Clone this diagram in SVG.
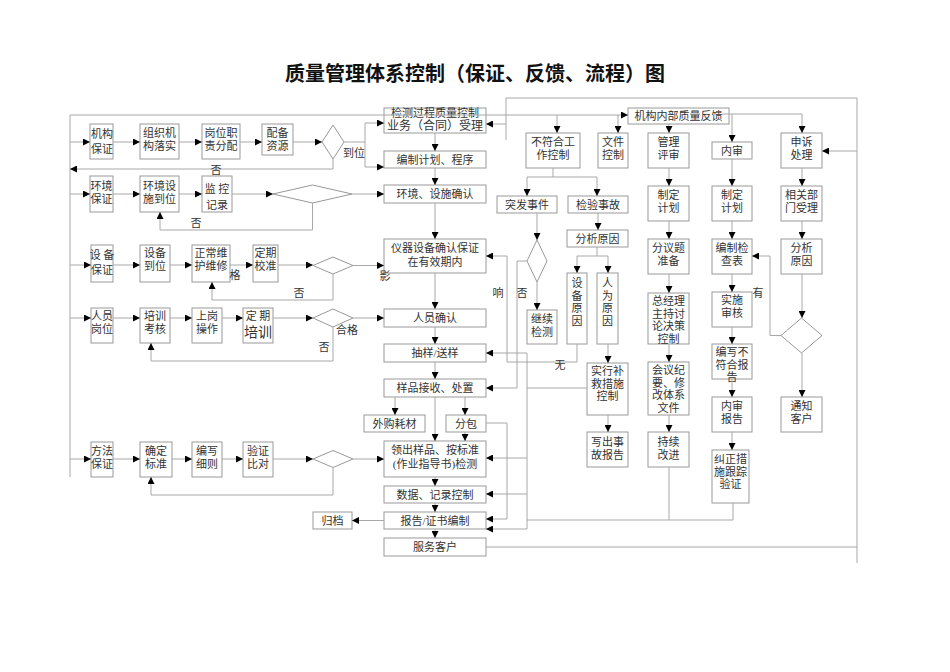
<svg xmlns="http://www.w3.org/2000/svg" width="950" height="672" viewBox="0 0 950 672">
<defs>
<style>
.b{fill:#fff;stroke:#999;stroke-width:1}
.t{font-family:"Liberation Serif","Noto Sans CJK SC",serif;font-size:11px;fill:#333;text-anchor:middle}
.l{fill:none;stroke:#a8a8a8;stroke-width:1}
.la{fill:none;stroke:#a8a8a8;stroke-width:1;marker-end:url(#a)}
.lb{font-family:"Liberation Serif","Noto Sans CJK SC",serif;font-size:11px;fill:#333;text-anchor:middle}
</style>
<marker id="a" markerWidth="7" markerHeight="7" refX="7" refY="3.5" orient="auto" markerUnits="userSpaceOnUse"><path d="M0,0 L7,3.5 L0,7 z" fill="#000"/></marker>
</defs>
<rect width="950" height="672" fill="#fff"/>
<text x="475" y="81" font-family="Liberation Serif, Noto Sans CJK SC, sans-serif" font-size="20" font-weight="bold" text-anchor="middle" fill="#111">质量管理体系控制（保证、反馈、流程）图</text>

<g id="nodes">
<g id="n_jg"><rect class="b" x="90" y="124" width="23" height="35"/><text class="t" x="102" y="138" font-size="13">机构<tspan x="102" dy="15">保证</tspan></text></g>
<g id="n_zz"><rect class="b" x="140" y="124" width="39" height="35"/><text class="t" x="159.5" y="137">组织机<tspan x="159.5" dy="13">构落实</tspan></text></g>
<g id="n_gw"><rect class="b" x="202" y="124" width="38" height="35"/><text class="t" x="221" y="137">岗位职<tspan x="221" dy="13">责分配</tspan></text></g>
<g id="n_pb"><rect class="b" x="262" y="124" width="31" height="31"/><text class="t" x="277.5" y="137">配备<tspan x="277.5" dy="13">资源</tspan></text></g>
<g id="n_d1"><polygon class="b" points="333,125 344,142 333,159 322,142"/></g>

<g id="n_hj"><rect class="b" x="90" y="176" width="23" height="36"/><text class="t" x="101.5" y="190">环境<tspan x="101.5" dy="13">保证</tspan></text></g>
<g id="n_hs"><rect class="b" x="140" y="176" width="39" height="36"/><text class="t" x="159.5" y="190">环境设<tspan x="159.5" dy="13">施到位</tspan></text></g>
<g id="n_jk"><rect class="b" x="202" y="176" width="30" height="36"/><text class="t" x="217" y="193" font-size="14">监 控<tspan x="217" dy="15.5">记录</tspan></text></g>
<g id="n_d2"><polygon class="b" points="273,194 312.5,185 352,194 312.5,203"/></g>

<g id="n_sb"><rect class="b" x="91" y="245" width="22" height="37"/><text class="t" x="102" y="259" font-size="13">设 备<tspan x="102" dy="15">保证</tspan></text></g>
<g id="n_sd"><rect class="b" x="140" y="245" width="30" height="37"/><text class="t" x="155" y="257">设备<tspan x="155" dy="13">到位</tspan></text></g>
<g id="n_zc"><rect class="b" x="192" y="245" width="38" height="37"/><text class="t" x="211" y="257">正常维<tspan x="211" dy="13">护维修</tspan></text></g>
<g id="n_dq"><rect class="b" x="253" y="245" width="25" height="37"/><text class="t" x="265.5" y="257">定期<tspan x="265.5" dy="13">校准</tspan></text></g>
<g id="n_d3"><polygon class="b" points="313,265.5 333,257 353,265.5 333,274"/></g>

<g id="n_ry"><rect class="b" x="91" y="308" width="22" height="35"/><text class="t" x="102" y="320">人员<tspan x="102" dy="13">岗位</tspan></text></g>
<g id="n_px"><rect class="b" x="140" y="308" width="30" height="35"/><text class="t" x="155" y="320">培训<tspan x="155" dy="13">考核</tspan></text></g>
<g id="n_sg"><rect class="b" x="192" y="308" width="30" height="35"/><text class="t" x="207" y="320">上岗<tspan x="207" dy="13">操作</tspan></text></g>
<g id="n_dp"><rect class="b" x="243" y="308" width="30" height="35"/><text class="t" x="258" y="320">定 期<tspan x="258" dy="17" font-size="14">培训</tspan></text></g>
<g id="n_d4"><polygon class="b" points="313,318 333,309 353,318 333,327"/></g>

<g id="n_ff"><rect class="b" x="91" y="442" width="22" height="35"/><text class="t" x="102" y="455">方法<tspan x="102" dy="13">保证</tspan></text></g>
<g id="n_qd"><rect class="b" x="140" y="442" width="32" height="35"/><text class="t" x="156" y="455">确定<tspan x="156" dy="13">标准</tspan></text></g>
<g id="n_bx"><rect class="b" x="192" y="442" width="30" height="35"/><text class="t" x="207" y="455">编写<tspan x="207" dy="13">细则</tspan></text></g>
<g id="n_yz"><rect class="b" x="243" y="442" width="30" height="35"/><text class="t" x="258" y="455">验证<tspan x="258" dy="13">比对</tspan></text></g>
<g id="n_d5"><polygon class="b" points="313,459 333,450.5 353,459 333,467.5"/></g>

<g id="m1"><rect class="b" x="384" y="108" width="102" height="25"/><text class="t" x="435" y="117" font-size="10.5">检测过程质量控制<tspan x="435" dy="13" font-size="12">业务（合同）受理</tspan></text></g>
<g id="m2"><rect class="b" x="384" y="151" width="102" height="17"/><text class="t" x="435" y="164">编制计划、程序</text></g>
<g id="m3"><rect class="b" x="384" y="185" width="102" height="18"/><text class="t" x="435" y="198">环境、设施确认</text></g>
<g id="m4"><rect class="b" x="384" y="239" width="102" height="34"/><text class="t" x="435" y="252">仪器设备确认保证<tspan x="435" dy="14">在有效期内</tspan></text></g>
<g id="m5"><rect class="b" x="384" y="309" width="102" height="18"/><text class="t" x="435" y="322">人员确认</text></g>
<g id="m6"><rect class="b" x="384" y="344" width="102" height="18"/><text class="t" x="435" y="357">抽样/送样</text></g>
<g id="m7"><rect class="b" x="384" y="379" width="102" height="18"/><text class="t" x="435" y="392">样品接收、处置</text></g>
<g id="m8a"><rect class="b" x="364" y="415" width="61" height="17"/><text class="t" x="394.5" y="428">外购耗材</text></g>
<g id="m8b"><rect class="b" x="446" y="415" width="40" height="17"/><text class="t" x="466" y="428">分包</text></g>
<g id="m9"><rect class="b" x="384" y="441" width="102" height="36"/><text class="t" x="435" y="454">领出样品、按标准<tspan x="435" dy="14">(作业指导书)检测</tspan></text></g>
<g id="m10"><rect class="b" x="384" y="486" width="102" height="17"/><text class="t" x="435" y="499">数据、记录控制</text></g>
<g id="m11"><rect class="b" x="384" y="512" width="102" height="17"/><text class="t" x="435" y="525">报告/证书编制</text></g>
<g id="m12"><rect class="b" x="384" y="538" width="102" height="18"/><text class="t" x="435" y="551">服务客户</text></g>
<g id="m_gd"><rect class="b" x="313" y="512" width="39" height="17"/><text class="t" x="332.5" y="525">归档</text></g>

<g id="r0"><rect class="b" x="628" y="108" width="101" height="16"/><text class="t" x="678.5" y="120">机构内部质量反馈</text></g>
<g id="r1"><rect class="b" x="526" y="133" width="54" height="35"/><text class="t" x="553" y="146">不符合工<tspan x="553" dy="13">作控制</tspan></text></g>
<g id="r2"><rect class="b" x="598" y="133" width="30" height="35"/><text class="t" x="613" y="146">文件<tspan x="613" dy="13">控制</tspan></text></g>
<g id="r3"><rect class="b" x="648" y="133" width="41" height="35"/><text class="t" x="668.5" y="146">管理<tspan x="668.5" dy="13">评审</tspan></text></g>
<g id="r4"><rect class="b" x="712" y="142" width="40" height="17"/><text class="t" x="732" y="155">内审</text></g>
<g id="r5"><rect class="b" x="781" y="133" width="41" height="35"/><text class="t" x="801.5" y="146">申诉<tspan x="801.5" dy="13">处理</tspan></text></g>
<g id="r6"><rect class="b" x="497" y="196" width="60" height="17"/><text class="t" x="527" y="209">突发事件</text></g>
<g id="r7"><rect class="b" x="568" y="196" width="60" height="17"/><text class="t" x="598" y="209">检验事故</text></g>
<g id="r8"><rect class="b" x="648" y="186" width="41" height="35"/><text class="t" x="668.5" y="199">制定<tspan x="668.5" dy="13">计划</tspan></text></g>
<g id="r9"><rect class="b" x="712" y="186" width="40" height="35"/><text class="t" x="732" y="199">制定<tspan x="732" dy="13">计划</tspan></text></g>
<g id="r10"><rect class="b" x="781" y="186" width="41" height="35"/><text class="t" x="801.5" y="199">相关部<tspan x="801.5" dy="13">门受理</tspan></text></g>
<g id="r11"><rect class="b" x="567" y="230" width="61" height="17"/><text class="t" x="597.5" y="243">分析原因</text></g>
<g id="r12"><polygon class="b" points="537,240 547,261 537,282 527,261"/></g>
<g id="r13"><rect class="b" x="527" y="310" width="30" height="34"/><text class="t" x="542" y="323">继续<tspan x="542" dy="13">检测</tspan></text></g>
<g id="r14"><rect class="b" x="567" y="273" width="20" height="71"/><text class="t" x="577" y="287">设<tspan x="577" dy="12.5">备</tspan><tspan x="577" dy="12.5">原</tspan><tspan x="577" dy="12.5">因</tspan></text></g>
<g id="r15"><rect class="b" x="597" y="273" width="21" height="71"/><text class="t" x="607.5" y="287">人<tspan x="607.5" dy="12.5">为</tspan><tspan x="607.5" dy="12.5">原</tspan><tspan x="607.5" dy="12.5">因</tspan></text></g>
<g id="r16"><rect class="b" x="587" y="363" width="41" height="52"/><text class="t" x="607.5" y="375">实行补<tspan x="607.5" dy="12.5">救措施</tspan><tspan x="607.5" dy="12.5">控制</tspan></text></g>
<g id="r17"><rect class="b" x="587" y="432" width="41" height="35"/><text class="t" x="607.5" y="446">写出事<tspan x="607.5" dy="12.5">故报告</tspan></text></g>
<g id="r18"><rect class="b" x="648" y="239" width="41" height="35"/><text class="t" x="668.5" y="252">分议题<tspan x="668.5" dy="12.5">准备</tspan></text></g>
<g id="r19"><rect class="b" x="648" y="293" width="41" height="51"/><text class="t" x="668.5" y="305">总经理<tspan x="668.5" dy="12.5">主持讨</tspan><tspan x="668.5" dy="12.5">论决策</tspan><tspan x="668.5" dy="12.5">控制</tspan></text></g>
<g id="r20"><rect class="b" x="648" y="362" width="41" height="53"/><text class="t" x="668.5" y="374">会议纪<tspan x="668.5" dy="12.5">要、修</tspan><tspan x="668.5" dy="12.5">改体系</tspan><tspan x="668.5" dy="12.5">文件</tspan></text></g>
<g id="r21"><rect class="b" x="648" y="432" width="41" height="35"/><text class="t" x="668.5" y="446">持续<tspan x="668.5" dy="12.5">改进</tspan></text></g>
<g id="r22"><rect class="b" x="712" y="239" width="40" height="35"/><text class="t" x="732" y="252">编制检<tspan x="732" dy="12.5">查表</tspan></text></g>
<g id="r23"><rect class="b" x="712" y="292" width="40" height="35"/><text class="t" x="732" y="304">实施<tspan x="732" dy="12.5">审核</tspan></text></g>
<g id="r24"><rect class="b" x="712" y="344" width="40" height="35"/><text class="t" x="732" y="356">编写不<tspan x="732" dy="12.5">符合报</tspan><tspan x="732" dy="12.5">告</tspan></text></g>
<g id="r25"><rect class="b" x="712" y="397" width="40" height="35"/><text class="t" x="732" y="410">内审<tspan x="732" dy="12.5">报告</tspan></text></g>
<g id="r26"><rect class="b" x="712" y="450" width="37" height="53"/><text class="t" x="730.5" y="463">纠正措<tspan x="730.5" dy="12.5">施跟踪</tspan><tspan x="730.5" dy="12.5">验证</tspan></text></g>
<g id="r27"><rect class="b" x="781" y="239" width="41" height="35"/><text class="t" x="801.5" y="252">分析<tspan x="801.5" dy="12.5">原因</tspan></text></g>
<g id="r28"><polygon class="b" points="801.5,318 822,335.5 801.5,353 781,335.5"/></g>
<g id="r29"><rect class="b" x="781" y="397" width="41" height="35"/><text class="t" x="801.5" y="410">通知<tspan x="801.5" dy="12.5">客户</tspan></text></g>
</g>

<g id="connectors">
<path class="l" d="M70,115 V477"/>
<path class="la" d="M70,115 H628"/>
<path class="la" d="M70,142 H90"/>
<path class="la" d="M113,142 H140"/>
<path class="la" d="M179,142 H202"/>
<path class="la" d="M240,142 H262"/>
<path class="la" d="M293,142 H322"/>
<path class="l" d="M344,142 H365 M365,123 V167"/>
<path class="la" d="M365,123 H384"/>
<path class="la" d="M365,167 H384"/>
<path class="la" d="M333,159 V169 H70"/>
<path class="la" d="M70,194 H90"/>
<path class="la" d="M113,194 H140"/>
<path class="la" d="M179,194 H202"/>
<path class="la" d="M232,194 H273"/>
<path class="la" d="M352,194 H384"/>
<path class="la" d="M312.5,203 V230 H160 V212"/>
<path class="la" d="M70,265 H91"/>
<path class="la" d="M113,265 H140"/>
<path class="la" d="M170,265 H192"/>
<path class="la" d="M230,265 H253"/>
<path class="la" d="M278,265 H313"/>
<path class="la" d="M353,265.5 H384"/>
<path class="la" d="M333,274 V300 H212 V282"/>
<path class="la" d="M70,318 H91"/>
<path class="la" d="M113,318 H140"/>
<path class="la" d="M170,318 H192"/>
<path class="la" d="M222,318 H243"/>
<path class="la" d="M273,318 H313"/>
<path class="la" d="M353,318 H384"/>
<path class="la" d="M333,327 V361 H151 V343"/>
<path class="la" d="M70,459 H91"/>
<path class="la" d="M113,459 H140"/>
<path class="la" d="M172,459 H192"/>
<path class="la" d="M222,459 H243"/>
<path class="la" d="M273,459 H313"/>
<path class="la" d="M353,459 H384"/>
<path class="la" d="M333,467.5 V495 H151 V477"/>
<path class="la" d="M435,133 V151"/>
<path class="la" d="M435,168 V185"/>
<path class="la" d="M435,203 V239"/>
<path class="la" d="M435,273 V309"/>
<path class="la" d="M435,327 V344"/>
<path class="la" d="M435,362 V379"/>
<path class="la" d="M395,397 V415"/>
<path class="la" d="M465,397 V415"/>
<path class="la" d="M435,397 V441"/>
<path class="la" d="M465,432 V441"/>
<path class="la" d="M435,477 V486"/>
<path class="la" d="M435,503 V512"/>
<path class="la" d="M435,529 V538"/>
<path class="la" d="M384,520.5 H352"/>
<path class="l" d="M486,547 H857 M857,98 V563 M857,98 H506 V140"/>
<path class="la" d="M506,124 H486"/>
<path class="la" d="M857,151 H822"/>
<path class="la" d="M577,344 V362 H507 V256 H486"/>
<path class="la" d="M527,261 H517 V388 H486"/>
<path class="l" d="M587,388 H527 M527,353 V529"/>
<path class="la" d="M527,353 H486"/>
<path class="la" d="M527,458 H486"/>
<path class="la" d="M527,494 H486"/>
<path class="la" d="M527,529 H486"/>
<path class="la" d="M486,423 H507 V519 H486"/>
<path class="l" d="M733,503 V520 H527 M669,467 V520"/>
<path class="la" d="M557,115 V133"/>
<path class="la" d="M618,115 V133"/>
<path class="la" d="M669,124 V133"/>
<path class="la" d="M722,114 H802 V133"/>
<path class="la" d="M732,114 V142"/>
<path class="l" d="M553,168 V177 M527,177 H597"/>
<path class="la" d="M527,177 V196"/>
<path class="la" d="M597,177 V196"/>
<path class="la" d="M598,213 V230"/>
<path class="la" d="M537,213 V240"/>
<path class="la" d="M537,282 V310"/>
<path class="l" d="M597,247 V256 M577,256 H608"/>
<path class="la" d="M577,256 V273"/>
<path class="la" d="M608,256 V273"/>
<path class="la" d="M608,344 V363"/>
<path class="la" d="M608,415 V432"/>
<path class="la" d="M669,168 V186"/>
<path class="la" d="M669,221 V239"/>
<path class="la" d="M669,274 V293"/>
<path class="la" d="M669,344 V362"/>
<path class="la" d="M669,415 V432"/>
<path class="la" d="M732,159 V186"/>
<path class="la" d="M732,221 V239"/>
<path class="la" d="M732,274 V292"/>
<path class="la" d="M732,327 V344"/>
<path class="la" d="M732,379 V397"/>
<path class="la" d="M732,432 V450"/>
<path class="la" d="M802,168 V186"/>
<path class="la" d="M802,221 V239"/>
<path class="la" d="M802,274 V318"/>
<path class="la" d="M802,353 V397"/>
<path class="la" d="M781,335.5 H770 V256 H752"/>
</g>

<g id="labels">
<text class="lb" x="354" y="157">到位</text>
<text class="lb" x="216" y="174">否</text>
<text class="lb" x="196" y="227">否</text>
<text class="lb" x="299" y="297">否</text>
<text class="lb" x="235" y="279">格</text>
<text class="lb" x="347" y="334">合格</text>
<text class="lb" x="324" y="351">否</text>
<text class="lb" x="385" y="280">影</text>
<text class="lb" x="498" y="297">响</text>
<text class="lb" x="522" y="297">否</text>
<text class="lb" x="560" y="369">无</text>
<text class="lb" x="758" y="297">有</text>
</g>
</svg>
